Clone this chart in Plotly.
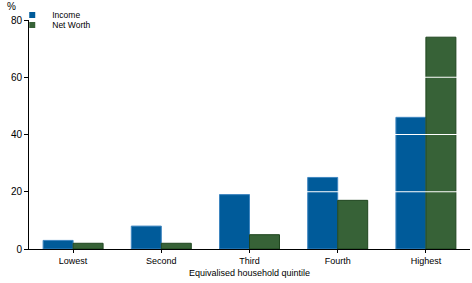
import plotly.graph_objects as go

categories = ["Lowest", "Second", "Third", "Fourth", "Highest"]
income = [3, 8, 19, 25, 46]
net_worth = [2, 2, 5, 17, 74]
y_ticks = [0, 20, 40, 60, 80]

FONT = "Liberation Sans, Arial, sans-serif"
C_INC = "#005b9a"
C_NW = "#376237"

fig = go.Figure()
fig.add_trace(go.Bar(x=categories, y=income, name="Income", showlegend=False,
                     marker=dict(color=C_INC, line=dict(color="#3f86c0", width=1))))
fig.add_trace(go.Bar(x=categories, y=net_worth, name="Net Worth", showlegend=False,
                     marker=dict(color=C_NW, line=dict(color="#1f451f", width=1))))
# legend entries with small square symbols (two legends for tight spacing)
fig.add_trace(go.Scatter(x=[None], y=[None], mode="markers", name="Income",
                         legend="legend",
                         marker=dict(symbol="square", size=6, color=C_INC)))
fig.add_trace(go.Scatter(x=[None], y=[None], mode="markers", name="Net Worth",
                         legend="legend2",
                         marker=dict(symbol="square", size=6, color=C_NW)))

for v in y_ticks[1:-1]:
    fig.add_shape(type="line", xref="paper", yref="y", x0=0, x1=1, y0=v, y1=v,
                  line=dict(color="white", width=1.2), layer="above")

leg_common = dict(xanchor="left", yanchor="top", bgcolor="rgba(0,0,0,0)",
                  font=dict(size=8.5), itemwidth=30)

fig.update_layout(
    width=472, height=283,
    margin=dict(l=29, r=2, t=19, b=34),
    paper_bgcolor="white", plot_bgcolor="white",
    barmode="group", bargap=0.32, bargroupgap=0.0,
    font=dict(family=FONT, size=9, color="black"),
    showlegend=True,
    legend=dict(x=-0.038, y=1.08, **leg_common),
    legend2=dict(x=-0.038, y=1.08 - 10 / 230, **leg_common),
    xaxis=dict(showline=True, linecolor="black", linewidth=1,
               ticks="outside", ticklen=3, tickcolor="black",
               showgrid=False, zeroline=False,
               title=dict(text="Equivalised household quintile", standoff=4,
                          font=dict(size=9))),
    yaxis=dict(range=[0, 80], tickvals=y_ticks, showline=True, linecolor="black",
               linewidth=1, ticks="outside", ticklen=4, tickcolor="black",
               showgrid=False, zeroline=False, tickfont=dict(size=10)),
    annotations=[dict(text="%", xref="paper", yref="paper", x=-0.04, y=1.0,
                      xanchor="center", yanchor="bottom", showarrow=False,
                      font=dict(size=10), yshift=6)],
)

fig.write_html("out.html")
